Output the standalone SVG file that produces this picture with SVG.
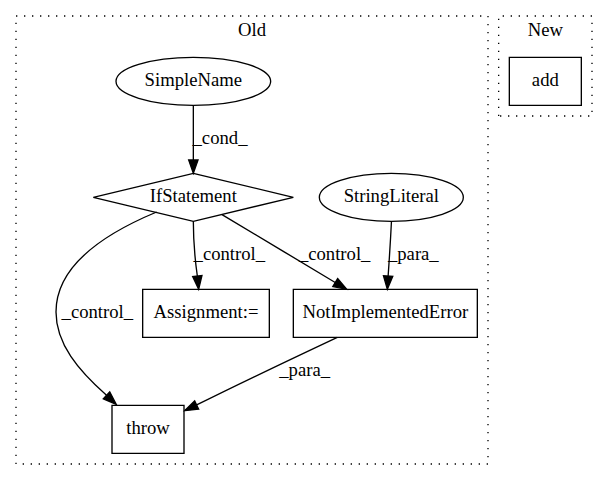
<svg xmlns="http://www.w3.org/2000/svg" width="608" height="480" viewBox="0 0 608 480">
<style>
text{font-family:"Liberation Serif","DejaVu Serif",serif;font-size:14px;text-anchor:middle;fill:#000}
.cl{fill:none;stroke:#000;stroke-dasharray:1,5}
.nd{fill:none;stroke:#000}
.ed{fill:none;stroke:#000}
.ah{fill:#000;stroke:#000}
</style>
<rect width="608" height="480" fill="#fff"/>
<g transform="scale(1.333333) translate(4 356)">
<g id="cluster_old">
<polygon class="cl" points="8,-8 8,-344 362,-344 362,-8"/>
<text x="185" y="-328.8" font-family="Liberation Serif">Old</text>
</g>
<g id="cluster_new">
<polygon class="cl" points="370,-269 370,-344 440,-344 440,-269"/>
<text x="405" y="-328.8" font-family="Liberation Serif">New</text>
</g>
<g id="node_add">
<polygon class="nd" points="378,-277 378,-313 432,-313 432,-277"/>
<text x="405" y="-291.3" font-family="Liberation Serif">add</text>
</g>
<g id="node_simplename">
<ellipse class="nd" cx="141" cy="-295" rx="58" ry="18"/>
<text x="141" y="-291.3" font-family="Liberation Serif">SimpleName</text>
</g>
<g id="node_ifstatement">
<polygon class="nd" points="141,-226 216,-208 141,-190 66,-208"/>
<text x="141" y="-204.3" font-family="Liberation Serif">IfStatement</text>
</g>
<g id="node_stringliteral">
<ellipse class="nd" cx="289.5" cy="-208" rx="54" ry="18"/>
<text x="289.5" y="-204.3" font-family="Liberation Serif">StringLiteral</text>
</g>
<g id="node_assignment">
<polygon class="nd" points="103,-103 103,-139 198,-139 198,-103"/>
<text x="150.5" y="-117.3" font-family="Liberation Serif">Assignment:=</text>
</g>
<g id="node_notimplementederror">
<polygon class="nd" points="216,-103 216,-139 354,-139 354,-103"/>
<text x="285" y="-117.3" font-family="Liberation Serif">NotImplementedError</text>
</g>
<g id="node_throw">
<polygon class="nd" points="80,-16 80,-52 134,-52 134,-16"/>
<text x="107" y="-30.3" font-family="Liberation Serif">throw</text>
</g>
<g id="connectors">
<path class="ed" d="M141,-277 C141,-265 141,-250 141,-236"/>
<polygon class="ah" points="144.5,-236 141,-226 137.5,-236"/>
<text x="161" y="-247.8" font-family="Liberation Serif">_cond_</text>

<path class="ed" d="M141,-190 C141,-178 142,-163 144,-149"/>
<polygon class="ah" points="147.5,-149.4 145,-139 140.5,-148.6"/>
<text x="168" y="-160.8" font-family="Liberation Serif">_control_</text>

<path class="ed" d="M162.5,-195 C185,-181.5 222,-159.5 247.4,-144.1"/>
<polygon class="ah" points="249.2,-147.1 256,-139 245.6,-141.1"/>
<text x="247" y="-160.8" font-family="Liberation Serif">_control_</text>

<path class="ed" d="M289.6,-190 C289,-178 288,-162 287.1,-149"/>
<polygon class="ah" points="290.6,-148.8 286.5,-139 283.6,-149.2"/>
<text x="306" y="-160.8" font-family="Liberation Serif">_para_</text>

<path class="ed" d="M113.5,-197 C75,-181 38,-157 38,-122 C38,-98 55,-78 75.9,-59.5"/>
<polygon class="ah" points="73.5,-56.9 83.2,-52.7 78.3,-62.1"/>
<text x="69" y="-117.8" font-family="Liberation Serif">_control_</text>

<path class="ed" d="M249,-103 C215,-87 175,-68 143.5,-52.3"/>
<polygon class="ah" points="145,-49.1 134.5,-48 142,-55.4"/>
<text x="224.5" y="-73.8" font-family="Liberation Serif">_para_</text>
</g>
</g>
</svg>
